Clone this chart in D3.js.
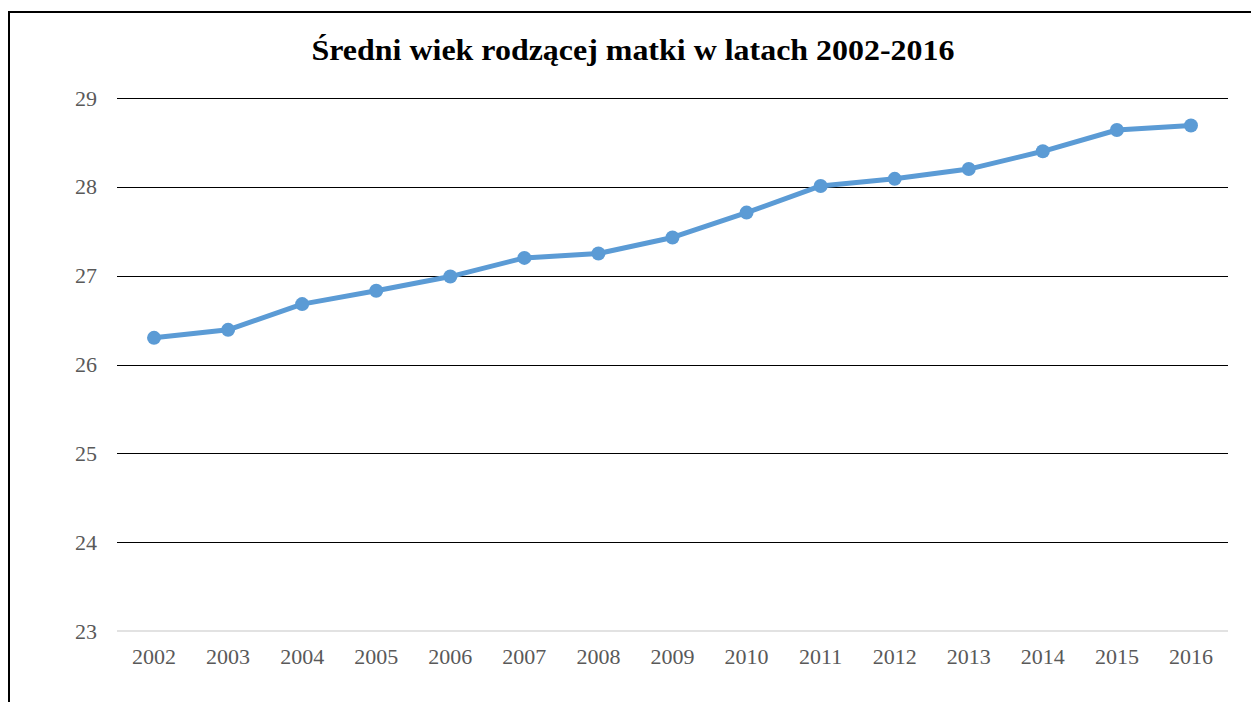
<!DOCTYPE html>
<html>
<head>
<meta charset="utf-8">
<script src="https://cdn.jsdelivr.net/npm/d3@7"></script>
<style>
  html, body { margin: 0; padding: 0; background: #fff; }
  svg { display: block; }
</style>
</head>
<body>
<svg id="chart" width="1251" height="702"></svg>
<script>
const titleText = "Średni wiek rodzącej matki w latach 2002-2016";
const years = ["2002","2003","2004","2005","2006","2007","2008","2009","2010","2011","2012","2013","2014","2015","2016"];
const values = [26.30, 26.39, 26.68, 26.83, 26.99, 27.20, 27.25, 27.43, 27.71, 28.01, 28.09, 28.20, 28.40, 28.64, 28.69];
const yTicks = [23, 24, 25, 26, 27, 28, 29];

const svg = d3.select("#chart");
const W = 1251, H = 702;
const plot = { left: 117, right: 1228, top: 98, bottom: 631 };

// outer frame (extends beyond right and bottom edges)
svg.append("rect")
  .attr("x", 9).attr("y", 12)
  .attr("width", W + 20).attr("height", H + 20)
  .attr("fill", "#fff").attr("stroke", "#000").attr("stroke-width", 2);

const x = d3.scaleBand().domain(years).range([plot.left, plot.right]);
const y = d3.scaleLinear().domain([23, 29]).range([plot.bottom, plot.top]);

// gridlines
svg.append("g").selectAll("line")
  .data(yTicks.filter(d => d !== 23))
  .join("line")
  .attr("x1", plot.left).attr("x2", plot.right)
  .attr("y1", d => Math.round(y(d)) + 0.5).attr("y2", d => Math.round(y(d)) + 0.5)
  .attr("stroke", "#000").attr("stroke-width", 1);

// baseline
svg.append("line")
  .attr("x1", plot.left).attr("x2", plot.right)
  .attr("y1", y(23)).attr("y2", y(23))
  .attr("stroke", "#d9d9d9").attr("stroke-width", 1.5);

// y axis labels
const yAxis = d3.axisLeft(y).tickValues(yTicks).tickSize(0).tickPadding(20).tickFormat(d3.format("d"));
const gy = svg.append("g").attr("transform", `translate(${plot.left},0)`).call(yAxis);
gy.select(".domain").remove();
gy.selectAll("text")
  .attr("font-family", "'Liberation Serif', 'Times New Roman', serif")
  .attr("font-size", 22).attr("fill", "#595959");

// x axis labels
const xAxis = d3.axisBottom(x).tickSize(0).tickPadding(17);
const gx = svg.append("g").attr("transform", `translate(0,${plot.bottom})`).call(xAxis);
gx.select(".domain").remove();
gx.selectAll("text")
  .attr("font-family", "'Liberation Serif', 'Times New Roman', serif")
  .attr("font-size", 22).attr("fill", "#595959");

// line
const cx = d => x(d) + x.bandwidth() / 2;
const line = d3.line().x((d, i) => cx(years[i])).y(d => y(d));
svg.append("path")
  .datum(values)
  .attr("d", line)
  .attr("fill", "none")
  .attr("stroke", "#5b9bd5")
  .attr("stroke-width", 5)
  .attr("stroke-linejoin", "round");

svg.append("g").selectAll("circle")
  .data(values)
  .join("circle")
  .attr("cx", (d, i) => cx(years[i]))
  .attr("cy", d => y(d))
  .attr("r", 7)
  .attr("fill", "#5b9bd5");

// title
svg.append("text")
  .attr("x", 633).attr("y", 60)
  .attr("text-anchor", "middle")
  .attr("font-family", "'Liberation Serif', 'Times New Roman', serif")
  .attr("font-weight", "bold")
  .attr("font-size", 29.5)
  .attr("fill", "#000")
  .attr("textLength", 643)
  .attr("lengthAdjust", "spacingAndGlyphs")
  .text(titleText);
</script>
</body>
</html>
